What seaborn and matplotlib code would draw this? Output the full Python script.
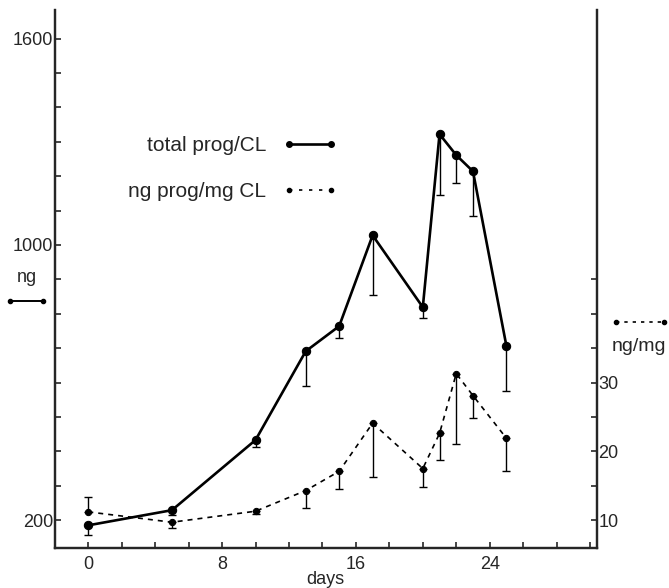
import numpy as np
import matplotlib
matplotlib.use("Agg")
import matplotlib.pyplot as plt
import seaborn as sns
from matplotlib.ticker import FixedLocator, MultipleLocator
from matplotlib.lines import Line2D

# data
days = [0, 5, 10, 13, 15, 17, 20, 21, 22, 23, 25]
total_prog = [185, 229, 433, 691, 764, 1028, 819, 1322, 1261, 1214, 706]      # ng / CL
total_low = [156, 215, 412, 590, 729, 854, 789, 1145, 1180, 1084, 575]
conc_prog = [11.2, 9.7, 11.3, 14.3, 17.1, 24.1, 17.5, 22.6, 31.3, 28.1, 21.9]  # ng / mg CL
conc_low = [11.2, 8.8, 10.9, 11.7, 14.6, 16.2, 14.8, 18.8, 21.0, 24.8, 17.2]
conc_high = [13.3, 9.7, 11.3, 14.3, 17.1, 24.1, 17.5, 22.6, 31.3, 28.1, 21.9]

left_ticks = [200, 1000, 1600]
right_ticks = [10, 20, 30]
x_ticks = [0, 8, 16, 24]

sns.set_style("ticks")
plt.rcParams['font.family'] = ['Liberation Sans', 'DejaVu Sans']

fig = plt.figure(figsize=(6.69, 5.88), dpi=100)
ax = fig.add_axes([0.082, 0.068, 0.810, 0.915])
ax2 = ax.twinx()

# total prog / CL (left axis)
sns.lineplot(x=days, y=total_prog, ax=ax, color='black', lw=1.9,
             marker='o', markersize=6, markeredgecolor='black')
t = np.array(total_prog)
ax.errorbar(days, t, yerr=[t - np.array(total_low), np.zeros(len(t))],
            fmt='none', ecolor='black', elinewidth=1, capsize=3)

# ng prog / mg CL (right axis)
sns.lineplot(x=days, y=conc_prog, ax=ax2, color='black', lw=1.2,
             linestyle=(0, (3, 3)), marker='o', markersize=4.5,
             markeredgecolor='black')
c = np.array(conc_prog)
ax2.errorbar(days, c, yerr=[c - np.array(conc_low), np.array(conc_high) - c],
             fmt='none', ecolor='black', elinewidth=1, capsize=3)

# axes ranges
ax.set_xlim(-2, 30.4)
ax.set_ylim(119, 1683)
lo, hi = ax.get_ylim()
ax2.set_ylim(10 + (lo - 200) / 20, 10 + (hi - 200) / 20)

ax.set_xticks(x_ticks)
ax.xaxis.set_minor_locator(MultipleLocator(2))
ax.set_yticks(left_ticks)
ax.yaxis.set_minor_locator(FixedLocator(list(range(200, 1700, 100))))
ax2.set_yticks(right_ticks)
ax2.yaxis.set_minor_locator(FixedLocator([15, 25, 35, 40, 45]))

for a in (ax, ax2):
    a.tick_params(which='both', direction='in', length=4, width=1.2,
                  labelsize=13, pad=1)
    a.spines['top'].set_visible(False)
    for s in ('left', 'right', 'bottom'):
        a.spines[s].set_linewidth(1.6)
ax.tick_params(axis='x', pad=6)

ax.set_xlabel('days', fontsize=13, labelpad=-2)
ax.set_ylabel('')
ax2.set_ylabel('')

# legend keys inside the plot
h1 = Line2D([], [], color='black', lw=1.9, marker='o', markersize=4)
h2 = Line2D([], [], color='black', lw=1.2, linestyle=(0, (2, 4)),
            marker='o', markersize=3)
ax.legend([h1, h2], ['total prog/CL', 'ng prog/mg CL'], loc='upper right',
          bbox_to_anchor=(0.555, 0.80), frameon=False, fontsize=15,
          markerfirst=False, numpoints=2, handlelength=2.6,
          labelspacing=1.28, handletextpad=0.8)

# axis keys outside the plot
ax.text(-0.052, 0.502, 'ng', transform=ax.transAxes, fontsize=13,
        ha='center', va='center')
ax.add_line(Line2D([-0.083, -0.022], [0.459, 0.459], transform=ax.transAxes,
                   color='black', lw=1.4, marker='o', markersize=3,
                   clip_on=False))
ax.add_line(Line2D([1.035, 1.125], [0.42, 0.42], transform=ax.transAxes,
                   color='black', lw=1.2, linestyle=(0, (2, 3)), marker='o',
                   markersize=3, clip_on=False))
ax.text(1.077, 0.375, 'ng/mg', transform=ax.transAxes, fontsize=14,
        ha='center', va='center')

fig.savefig('out.png', dpi=100)
